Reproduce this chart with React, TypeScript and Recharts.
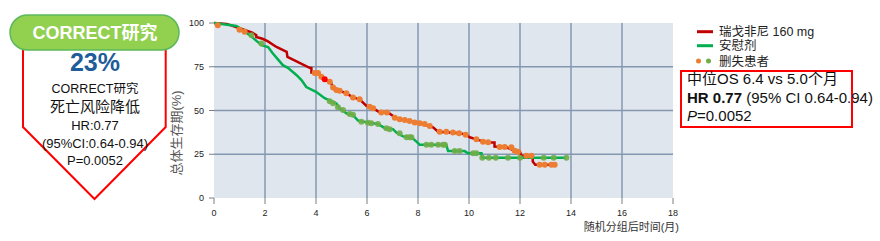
import React from 'react';
import { ComposedChart, Line, XAxis, YAxis, CartesianGrid } from 'recharts';

const FONT = "'Liberation Sans', Arial, 'Noto Sans CJK SC', sans-serif";

// axis ticks
const monthTicks = [0, 2, 4, 6, 8, 10, 12, 14, 16, 18];
const survivalTicks = [0, 25, 50, 75, 100];

// KM curve, regorafenib 160 mg (month, % alive)
const regorafenibCurve = [
  [0, 100], [0.5, 99.5], [1.0, 97], [1.5, 94.5], [1.66, 93], [1.66, 92], [1.9, 91],
  [2.1, 89.6], [2.45, 86.3], [2.85, 83.5], [2.88, 80.6], [3.75, 74.4], [3.82, 74.2],
  [3.82, 71.7], [4.08, 71.5], [4.34, 67.8], [4.6, 65.5], [4.67, 62.6], [4.93, 61.3],
  [5.19, 59.8], [5.45, 57.5], [5.71, 56.4], [5.98, 52.6], [6.24, 51.3], [6.5, 48.8],
  [6.83, 48.8], [7.15, 45.6], [7.55, 44.2], [7.94, 43], [8.2, 42.3], [8.59, 40.4],
  [8.79, 37.9], [9.24, 37.4], [9.63, 37], [9.9, 36.2], [10.03, 34.7], [10.35, 33.2],
  [10.6, 32.2], [10.8, 31.7], [11.0, 31.7], [11.0, 29.4], [11.47, 29], [11.7, 27.5],
  [12.0, 26.5], [12.05, 24.1], [12.5, 24.1], [12.5, 20.8], [12.6, 19], [13.4, 19],
];

// KM curve, placebo
const placeboCurve = [
  [0, 100], [0.88, 98.3], [1.14, 95.8], [1.4, 93], [1.53, 91.5], [1.86, 87.3],
  [2.12, 86.3], [2.31, 82.6], [2.7, 75.9], [2.9, 74.4], [3.23, 70.3], [3.43, 67.4],
  [3.62, 63.4], [4.0, 60.7], [4.34, 57], [4.6, 55.3], [4.8, 54], [4.93, 51.3],
  [5.19, 48.4], [5.45, 47.4], [5.65, 44.2], [6.1, 43], [6.43, 42.3], [6.7, 39.9],
  [7.02, 39.3], [7.15, 37.4], [7.41, 35.2], [7.74, 34.7], [7.94, 32.2], [8.07, 30.4],
  [9.11, 30.4], [9.18, 26.8], [9.83, 26.8], [9.96, 25.6], [10.49, 25.6], [10.52, 23],
  [13.8, 23],
];

// censored patients
const regorafenibCensored = [
  [0.15, 98.7], [1.0, 96.2], [1.2, 95], [3.95, 71.5], [4.08, 71.5], [4.21, 69.3],
  [4.54, 66.4], [4.67, 63.2], [4.8, 61.7], [4.93, 61.3], [5.19, 59.8], [5.45, 57.5],
  [5.71, 56.4], [6.1, 52.2], [6.24, 51.3], [6.56, 48.8], [6.78, 48.8], [7.09, 45.9],
  [7.28, 45], [7.48, 44.6], [7.67, 44], [7.87, 43.2], [8.07, 42.7], [8.26, 42.3],
  [8.46, 41.2], [8.85, 37.9], [9.11, 37.8], [9.37, 37.4], [9.61, 37], [9.87, 36.2],
  [10.29, 33.6], [10.55, 32.2], [10.75, 31.9], [11.2, 29.2], [11.4, 29.1], [11.66, 29],
  [11.79, 27], [11.92, 26.5], [12.25, 24.1], [12.45, 24.1], [12.77, 19], [12.97, 19],
  [13.23, 19], [13.36, 19],
];
const highlighted = [[4.34, 67.8]];

const placeboCensored = [
  [1.47, 93], [1.86, 88.3], [4.54, 55.3], [4.67, 54.1], [4.86, 51.8], [5.06, 50.3],
  [5.32, 48], [5.45, 47.6], [5.78, 43.6], [6.04, 43], [6.17, 42.7], [6.43, 42.3],
  [6.76, 39.9], [6.89, 39.3], [7.28, 37], [7.55, 34.7], [7.67, 34.7], [7.74, 34.7],
  [8.33, 30.4], [8.52, 30.4], [8.79, 30.4], [8.98, 30.4], [9.05, 30.4], [9.44, 26.8],
  [9.63, 26.8], [10.16, 25.6], [10.29, 25.6], [10.52, 23], [10.78, 23], [11.05, 23],
  [11.53, 23], [12.0, 23], [12.93, 23], [13.32, 23], [13.82, 23],
];

const toPoints = (rows: number[][]) => rows.map(([t, s]) => ({ t, s }));

const Overlay = () => (
  <svg width={880} height={241} style={{ position: 'absolute', left: 0, top: 0, pointerEvents: 'none' }} fontFamily={FONT}>
    {/* left badge */}
    <path d="M23,49 L23,127 L94.5,199 L165.7,127 L165.7,49" fill="#fff" stroke="#ff0000" strokeWidth={2} />
    <rect x={10} y={15} width={169} height={35} rx={17.5} fill="#92d050" stroke="#5cb85c" strokeWidth={1.5} />
    <text x={95} y={39} textAnchor="middle" fill="#fff" fontWeight="bold" fontSize={18}>CORRECT研究</text>
    <text x={95} y={70.5} textAnchor="middle" fill="#1f5c9a" fontWeight="bold" fontSize={25}>23%</text>
    <text x={95} y={92.5} textAnchor="middle" fill="#111" fontSize={12.5}>CORRECT研究</text>
    <text x={95} y={111.5} textAnchor="middle" fill="#111" fontSize={15}>死亡风险降低</text>
    <text x={95} y={129.7} textAnchor="middle" fill="#111" fontSize={13}>HR:0.77</text>
    <text x={95} y={147.7} textAnchor="middle" fill="#111" fontSize={13}>(95%CI:0.64-0.94)</text>
    <text x={95} y={164.7} textAnchor="middle" fill="#111" fontSize={13}>P=0.0052</text>

    {/* axis titles */}
    <text transform="translate(176,133) rotate(-90)" textAnchor="middle" dominantBaseline="central" fontSize={13} fill="#595959">总体生存期(%)</text>
    <text x={679} y={231} textAnchor="end" fontSize={11} fill="#333">随机分组后时间(月)</text>

    {/* legend */}
    <line x1={697} x2={713} y1={31.7} y2={31.7} stroke="#c00000" strokeWidth={3} />
    <text x={719} y={36} fontSize={12.5} fill="#222">瑞戈非尼 160 mg</text>
    <line x1={697} x2={713} y1={45.7} y2={45.7} stroke="#00b050" strokeWidth={3} />
    <text x={719} y={50} fontSize={12.5} fill="#222">安慰剂</text>
    <circle cx={698.5} cy={61} r={2.5} fill="#ed7d31" />
    <circle cx={708.5} cy={61} r={2.5} fill="#70ad47" />
    <text x={719} y={65.5} fontSize={12.5} fill="#222">删失患者</text>

    {/* stats box */}
    <rect x={681} y={71} width={171} height={56} fill="none" stroke="#ff0000" strokeWidth={2} />
    <text x={687} y={83.5} fontSize={15} fill="#111">中位OS 6.4 vs 5.0个月</text>
    <text x={687} y={103} fontSize={15} fill="#111">
      <tspan fontWeight="bold">HR 0.77</tspan> (95% CI 0.64-0.94)
    </text>
    <text x={687} y={120.5} fontSize={15} fill="#111">
      <tspan fontStyle="italic">P</tspan>=0.0052
    </text>
  </svg>
);

export default function App() {
  const tickStyle = { fontSize: 9, fill: '#222', fontFamily: FONT };
  return (
    <div style={{ position: 'absolute', left: 0, top: 0, width: 880, height: 241, background: '#fff' }}>
      <ComposedChart width={880} height={241} margin={{ top: 23, right: 207, bottom: 13, left: 184 }}>
        <CartesianGrid
          fill="#e0e6ee"
          stroke="#8497b0"
          strokeWidth={1.5}
          horizontalValues={[25, 50, 75]}
          verticalValues={[2, 4, 6, 8, 10, 12, 14, 16]}
        />
        <XAxis
          type="number"
          dataKey="t"
          domain={[0, 18]}
          ticks={monthTicks}
          axisLine={false}
          tickSize={6}
          tickMargin={6}
          tickLine={{ stroke: '#7f7f7f' }}
          tick={tickStyle}
          height={30}
        />
        <YAxis
          type="number"
          dataKey="s"
          domain={[0, 100]}
          ticks={survivalTicks}
          axisLine={false}
          tickSize={5}
          tickMargin={5}
          tickLine={{ stroke: '#7f7f7f' }}
          tick={tickStyle}
          width={30}
        />
        <Line data={toPoints(regorafenibCurve)} dataKey="s" stroke="#c00000" strokeWidth={2.5} dot={false} activeDot={false} isAnimationActive={false} />
        <Line data={toPoints(placeboCurve)} dataKey="s" stroke="#00b050" strokeWidth={2.5} dot={false} activeDot={false} isAnimationActive={false} />
        <Line data={toPoints(placeboCensored)} dataKey="s" stroke="none" dot={{ r: 3, fill: '#70ad47', stroke: 'none', fillOpacity: 0.9 }} activeDot={false} isAnimationActive={false} />
        <Line data={toPoints(regorafenibCensored)} dataKey="s" stroke="none" dot={{ r: 3, fill: '#ed7d31', stroke: 'none' }} activeDot={false} isAnimationActive={false} />
        <Line data={toPoints(highlighted)} dataKey="s" stroke="none" dot={{ r: 3, fill: '#ff0000', stroke: 'none' }} activeDot={false} isAnimationActive={false} />
      </ComposedChart>
      <Overlay />
    </div>
  );
}
